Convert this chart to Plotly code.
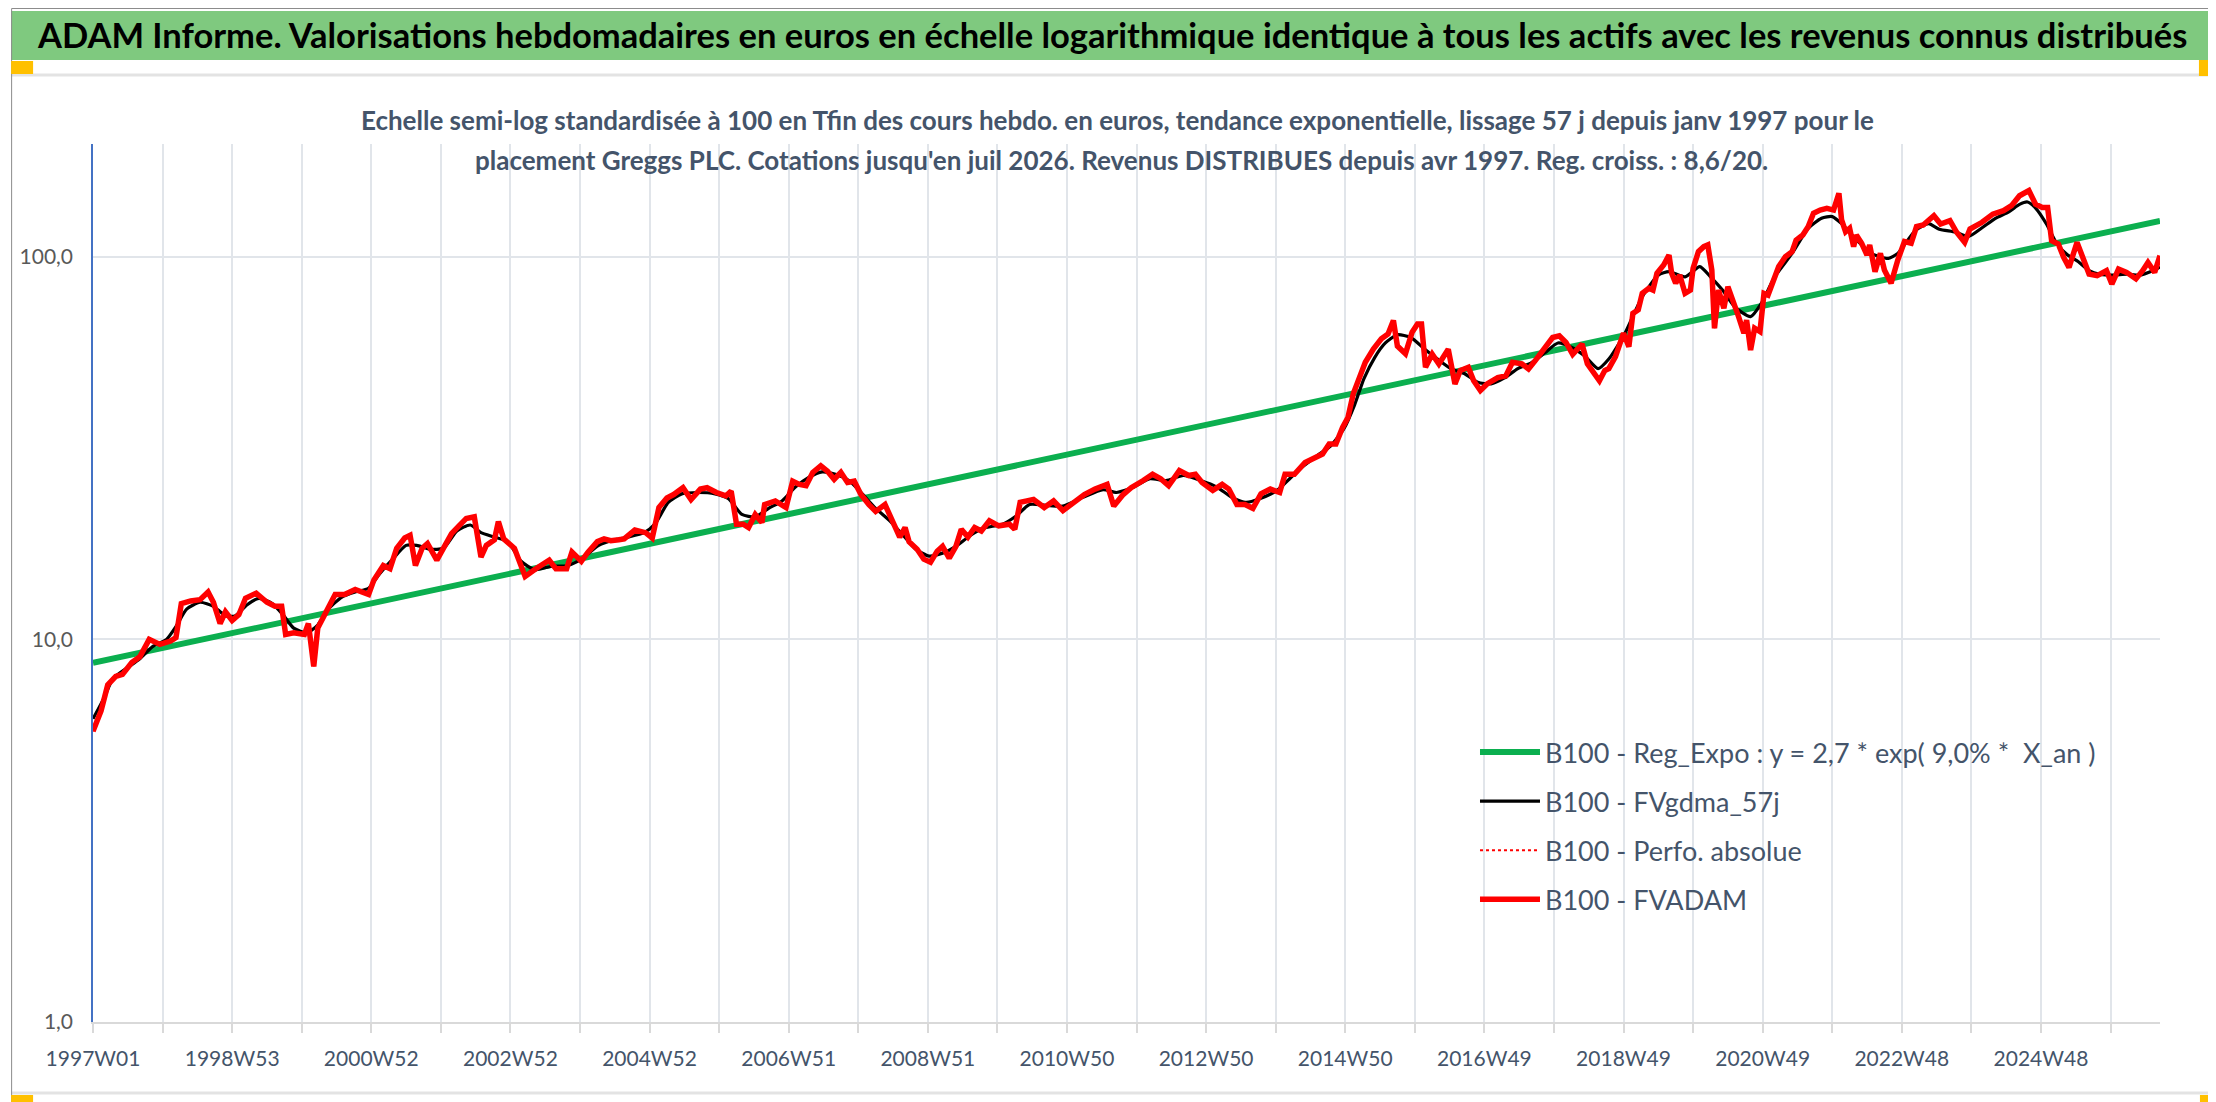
import plotly.graph_objects as go

# ---------------- data ----------------
# x = week index counted from 1997W01
fvadam_weeks = [0, 3, 6, 11, 17, 22, 29, 35, 42, 50, 58, 62, 66, 73, 80, 86, 90, 95, 99, 104,
                109, 114, 122, 130, 136, 141, 144, 150, 158, 161, 165, 168, 173, 181, 188, 196,
                206, 210, 217, 222, 227, 233, 237, 241, 246, 250, 257, 263, 268, 273, 279, 285,
                290, 294, 300, 303, 307, 315, 323, 331, 341, 346, 354, 358, 365, 370, 377, 382,
                387, 393, 397, 405, 413, 418, 423, 429, 434, 441, 447, 454, 459, 466, 473, 477,
                481, 486, 490, 495, 500, 502, 510, 518, 523, 528, 533, 538, 544, 549, 554, 559,
                564, 569, 574, 580, 585, 592, 598, 603, 607, 610, 616, 621, 626, 631, 635, 640,
                645, 649, 654, 659, 664, 670, 677, 685, 689, 693, 698, 703, 711, 718, 725, 734,
                741, 749, 758, 763, 770, 776, 781, 785, 792, 798, 804, 812, 819, 824, 829, 837,
                844, 849, 855, 861, 867, 873, 880, 887, 891, 898, 906, 914, 919, 924, 929, 934,
                938, 942, 947, 951, 957, 963, 968, 972, 975, 981, 986, 990, 993, 996, 1001, 1006,
                1013, 1018, 1022, 1028, 1032, 1037, 1042, 1050, 1056, 1061, 1068, 1073, 1078,
                1085, 1091, 1096, 1101, 1106, 1113, 1117, 1122, 1126, 1130,
                1133, 1138, 1144, 1148, 1151, 1155, 1158, 1163, 1166, 1169, 1174, 1178, 1180,
                1183, 1186, 1190, 1194, 1196, 1200, 1204, 1207, 1210, 1212, 1215, 1219, 1222,
                1226, 1230, 1234, 1236, 1239, 1242, 1246, 1249, 1252, 1256, 1260, 1265, 1270,
                1273, 1278, 1282, 1286, 1291, 1296, 1301, 1305, 1307, 1310, 1313, 1316, 1318,
                1322, 1326, 1328, 1332, 1336, 1339, 1344, 1349, 1354, 1359, 1363, 1368, 1372,
                1376, 1381, 1388, 1393, 1399, 1403, 1412, 1420, 1428, 1434, 1440, 1447, 1452,
                1457, 1461, 1464, 1469, 1473, 1477, 1483, 1487, 1492, 1498, 1505, 1509, 1514,
                1520, 1527, 1532, 1536, 1541, 1545]
fvadam_values = [5.75, 6.1, 6.5, 7.6, 8.0, 8.1, 8.7, 9.0, 10.0, 9.7, 9.9, 10.1, 12.4, 12.6, 12.7,
                 13.3, 12.5, 11.0, 11.8, 11.2, 11.6, 12.8, 13.2, 12.5, 12.2, 12.2, 10.3, 10.4,
                 10.3, 11.0, 8.5, 10.7, 11.6, 13.1, 13.1, 13.5, 13.1, 14.3, 15.6, 15.3, 17.3,
                 18.4, 18.7, 15.6, 17.3, 17.8, 16.1, 17.6, 18.9, 19.7, 20.7, 20.9, 16.4, 17.6,
                 18.2, 20.3, 18.3, 17.3, 14.6, 15.3, 16.1, 15.3, 15.3, 16.9, 16.0, 16.9, 18.0,
                 18.3, 18.1, 18.2, 18.3, 19.3, 19.0, 18.4, 22.1, 23.4, 23.9, 24.9, 23.2, 24.7,
                 24.9, 24.2, 23.7, 24.4, 20.0, 20.0, 19.6, 21.2, 20.2, 22.5, 23.0, 22.1, 25.9,
                 25.4, 25.2, 27.3, 28.4, 27.5, 26.2, 27.3, 25.7, 25.9, 23.9, 22.5, 21.6, 22.5,
                 20.0, 18.5, 19.6, 18.0, 17.2, 16.2, 15.9, 17.0, 17.5, 16.3, 17.5, 19.4, 18.5,
                 19.6, 19.2, 20.4, 19.8, 20.0, 19.4, 22.8, 23.0, 23.2, 22.1, 23.0, 21.7, 23.0,
                 23.9, 24.7, 25.4, 22.3, 23.9, 24.9, 25.4, 26.0, 27.0, 26.3, 25.2, 27.6, 26.8,
                 27.0, 25.7, 24.5, 25.4, 24.7, 22.5, 22.5, 22.0, 24.0, 24.7, 24.2, 27.0, 27.0,
                 29.0, 29.8, 30.5, 32.4, 32.4, 35.8, 38.0, 43.8, 48.4, 53.0, 57.4, 61.0, 62.8,
                 68.1, 58.4, 55.8, 63.5, 66.7, 66.7, 51.4, 55.6, 52.4, 57.3, 46.5, 50.4, 51.4,
                 47.4, 44.7, 46.5, 48.3, 48.8, 53.0, 52.5, 50.9, 53.5, 57.3, 61.5, 62.1, 59.7,
                 55.6, 59.1, 52.5, 49.9, 47.4, 50.4,
                 51.0, 54.8, 63.1, 58.2, 71.1, 72.6, 80.2, 82.7, 81.8, 90.5, 95.1, 101.0, 90.5,
                 85.2, 89.5, 80.2, 81.8, 93.2, 103.1, 106.2, 107.3, 92.3, 65.0, 81.8, 73.3, 83.5,
                 77.0, 69.7, 63.1, 68.3, 57.0, 65.0, 63.7, 80.2, 79.4, 86.9, 94.2, 100.0, 103.1,
                 110.5, 113.9, 119.8, 129.8, 132.4, 133.7, 132.4, 146.4, 124.7, 116.2, 118.6,
                 106.2, 113.9, 108.4, 101.0, 107.3, 91.4, 102.0, 92.3, 85.2, 98.0, 109.5, 108.4,
                 119.8, 121.0, 124.7,
                 128.0, 121.7, 124.2, 115.8, 109.0, 118.1, 123.0, 129.2, 131.9, 135.9, 144.3,
                 148.8, 137.2, 134.5, 134.5, 110.1, 107.9, 99.6, 93.8, 109.0, 99.6, 90.1, 89.2,
                 91.9, 84.8, 92.8, 91.0, 87.5, 91.9, 96.6, 91.0, 100.6]

gdma_weeks = [0, 8, 15, 25, 35, 45, 55, 62, 70, 80, 90, 98, 106, 115, 124, 134, 142, 150, 160,
              168, 176, 186, 196, 206, 214, 224, 234, 242, 252, 262, 272, 282, 290, 300, 310,
              320, 330, 342, 355, 365, 378, 390, 400, 412, 420, 430, 440, 452, 465, 475, 485,
              495, 505, 515, 525, 535, 545, 555, 565, 575, 585, 595, 605, 615, 625, 635, 645,
              655, 665, 680, 690, 700, 712, 725, 740, 755, 765, 778, 790, 802, 815, 828, 840,
              852, 862, 872, 885, 895, 905, 915, 925, 935, 943, 950, 958, 966, 975, 985, 995,
              1005, 1015, 1025, 1035, 1045, 1055, 1065, 1075, 1085, 1095, 1105, 1115, 1125,
              1133, 1145, 1158, 1170, 1178, 1190, 1201, 1209, 1218, 1227, 1239, 1247, 1257,
              1270, 1282, 1292, 1300, 1307, 1317, 1329, 1342, 1349, 1362, 1372,
              1380, 1392, 1402, 1412, 1422, 1432, 1440, 1446, 1452,
              1460, 1468, 1476, 1484, 1492, 1500, 1510, 1520, 1530, 1540, 1545]
gdma_values = [6.2, 7.0, 7.9, 8.4, 8.9, 9.6, 10.0, 10.8, 12.0, 12.5, 12.2, 11.6, 11.5, 12.3,
               12.8, 12.4, 11.6, 10.7, 10.4, 10.9, 12.0, 12.9, 13.3, 13.6, 14.8, 16.2, 17.6,
               17.6, 17.2, 17.3, 19.2, 19.9, 19.0, 18.5, 18.0, 16.0, 15.2, 15.5, 15.6, 16.2,
               17.6, 18.2, 18.5, 19.0, 20.0, 22.8, 24.0, 24.2, 24.0, 23.3, 21.2, 20.9, 22.0,
               23.0, 25.0, 26.5, 27.4, 27.0, 26.0, 24.0, 22.0, 20.5, 18.8, 17.2, 16.5, 16.8,
               17.5, 18.6, 19.5, 20.0, 21.0, 22.5, 22.4, 22.3, 23.5, 24.6, 24.2, 25.0, 26.3,
               26.0, 26.8, 26.0, 25.0, 23.4, 22.8, 23.3, 24.5, 26.4, 28.4, 30.2, 32.0, 35.5,
               41.0, 48.0, 54.5, 59.5, 62.5, 61.5, 57.5, 54.0, 51.0, 49.5, 47.0, 46.5, 48.2,
               51.0, 52.8, 56.0, 59.5, 58.0, 55.0, 51.0,
               54.0, 63.0, 78.6, 89.5, 91.4, 88.6, 94.2, 88.6, 81.8, 74.0, 69.7, 75.5, 88.6,
               102.0, 118.6, 126.0, 127.3, 122.0, 111.7, 102.0, 99.0, 102.0, 117.0, 122.0,
               118.0, 116.0, 113.0, 119.0, 126.0, 131.0, 137.0, 139.0, 134.0, 122.0, 108.0,
               101.0, 97.0, 92.0, 90.0, 89.5, 90.0, 89.5, 92.0, 94.0]

reg_weeks = [0, 1545]
reg_values = [8.68, 124.0]

tick_weeks = [0, 104, 208, 312, 416, 520, 624, 728, 832, 936, 1040, 1144, 1248, 1352, 1456]
tick_labels = ["1997W01", "1998W53", "2000W52", "2002W52", "2004W52", "2006W51", "2008W51",
               "2010W50", "2012W50", "2014W50", "2016W49", "2018W49", "2020W49", "2022W48",
               "2024W48"]
y_ticks = [1, 10, 100]
y_tick_labels = ["1,0", "10,0", "100,0"]

series_names = ["B100 - Reg_Expo : y = 2,7 * exp( 9,0% *  X_an )",
                "B100 - FVgdma_57j",
                "B100 - Perfo. absolue",
                "B100 - FVADAM"]

title_text = ("ADAM Informe. Valorisations hebdomadaires en euros en échelle logarithmique "
              "identique à tous les actifs avec les revenus connus distribués")
subtitle_1 = ("Echelle semi-log standardisée à 100 en Tfin des cours hebdo. en euros, tendance "
              "exponentielle, lissage 57 j depuis janv 1997 pour le")
subtitle_2 = ("placement Greggs PLC. Cotations jusqu'en juil 2026. Revenus DISTRIBUES depuis "
              "avr 1997. Reg. croiss. : 8,6/20.")

# ---------------- layout helpers ----------------
W, H = 2216, 1102
L, R, T, B = 82, 64, 136, 88
PW, PH = W - L - R, H - T - B


def pxx(x):
    return (x - L) / PW


def pxy(y):
    return (H - B - y) / PH


FONT = "Lato, 'Open Sans', sans-serif"
TXT = "#44546A"
GRID = "#E1E5EA"

fig = go.Figure()
fig.add_trace(go.Scatter(x=reg_weeks, y=reg_values, mode="lines", name=series_names[0],
                         line=dict(color="#0BAF4F", width=6), legendgroup="a"))
fig.add_trace(go.Scatter(x=gdma_weeks, y=gdma_values, mode="lines", name=series_names[1],
                         line=dict(color="#000000", width=3.2, shape="spline", smoothing=0.6),
                         legendgroup="b"))
fig.add_trace(go.Scatter(x=fvadam_weeks, y=fvadam_values, mode="lines", name=series_names[2],
                         line=dict(color="#FF0000", width=2, dash="dot"), legendgroup="c"))
fig.add_trace(go.Scatter(x=fvadam_weeks, y=fvadam_values, mode="lines", name=series_names[3],
                         line=dict(color="#FF0000", width=5.5), legendgroup="d"))

shapes = []
# green title band
shapes.append(dict(type="rect", xref="paper", yref="paper", x0=pxx(0), x1=pxx(W),
                   y0=pxy(52), y1=pxy(3), fillcolor="#7FC97F", line=dict(width=0), layer="below"))
# frame lines
shapes.append(dict(type="line", xref="paper", yref="paper", x0=pxx(0), x1=pxx(2205),
                   y0=pxy(67), y1=pxy(67), line=dict(color="#E3E3E3", width=3)))
shapes.append(dict(type="line", xref="paper", yref="paper", x0=pxx(0), x1=pxx(2205),
                   y0=pxy(1085), y1=pxy(1085), line=dict(color="#E3E3E3", width=3)))
shapes.append(dict(type="line", xref="paper", yref="paper", x0=pxx(2205), x1=pxx(2205),
                   y0=pxy(67), y1=pxy(1085), line=dict(color="#E3E3E3", width=3)))
shapes.append(dict(type="rect", xref="paper", yref="paper", x0=pxx(0.5), x1=pxx(2215.5),
                   y0=pxy(1101.5), y1=pxy(0.5), line=dict(color="#8C8C8C", width=1)))
# yellow selection handles
for (a, b, c, d) in [(0, 53, 22, 66), (2191, 52, 2212, 68), (2212, 52, 2214, 1100),
                     (0, 1087, 22, 1100), (2192, 1087, 2213, 1100), (2207, 1038, 2213, 1100)]:
    shapes.append(dict(type="rect", xref="paper", yref="paper", x0=pxx(a), x1=pxx(c),
                       y0=pxy(d), y1=pxy(b), fillcolor="#FFC000", line=dict(width=0)))

annotations = [
    dict(text="<b>" + title_text + "</b>", xref="paper", yref="paper", x=pxx(1102), y=pxy(27),
         xanchor="center", yanchor="middle", showarrow=False,
         font=dict(family=FONT, size=34.5, color="#000000")),
    dict(text="<b>" + subtitle_1 + "</b>", xref="paper", yref="paper", x=pxx(1108), y=pxy(112),
         xanchor="center", yanchor="middle", showarrow=False,
         font=dict(family=FONT, size=26, color=TXT)),
    dict(text="<b>" + subtitle_2 + "</b>", xref="paper", yref="paper", x=pxx(1112), y=pxy(152),
         xanchor="center", yanchor="middle", showarrow=False,
         font=dict(family=FONT, size=26, color=TXT)),
]

fig.update_layout(
    width=W, height=H,
    margin=dict(l=L, r=R, t=T, b=B),
    paper_bgcolor="white", plot_bgcolor="white",
    font=dict(family=FONT, color=TXT),
    shapes=shapes, annotations=annotations,
    showlegend=True,
    legend=dict(x=pxx(1466), y=pxy(720), xanchor="left", yanchor="top",
                bgcolor="rgba(0,0,0,0)", font=dict(family=FONT, size=27, color=TXT),
                traceorder="grouped", tracegroupgap=11, itemwidth=60),
    xaxis=dict(range=[0, 1545], tickmode="array", tickvals=tick_weeks, ticktext=tick_labels,
               showgrid=True, gridcolor=GRID, gridwidth=2, zeroline=False,
               showline=True, linecolor="#D9D9D9", linewidth=2,
               ticks="outside", ticklen=9, tickwidth=2, tickcolor="#D9D9D9",
               ticklabelstandoff=8,
               tickfont=dict(family=FONT, size=21, color=TXT),
               minor=dict(tickmode="linear", tick0=0, dtick=52, showgrid=True,
                          gridcolor=GRID, gridwidth=2, ticks="outside", ticklen=9,
                          tickwidth=2, tickcolor="#D9D9D9")),
    yaxis=dict(type="log", range=[0, 2.2945], tickmode="array", tickvals=y_ticks,
               ticktext=y_tick_labels, showgrid=True, gridcolor=GRID, gridwidth=2,
               zeroline=False, showline=True, linecolor="#4472C4", linewidth=1.5,
               ticks="", ticklabelstandoff=14,
               tickfont=dict(family=FONT, size=21, color="#595959")),
)

fig.write_html("out.html")
